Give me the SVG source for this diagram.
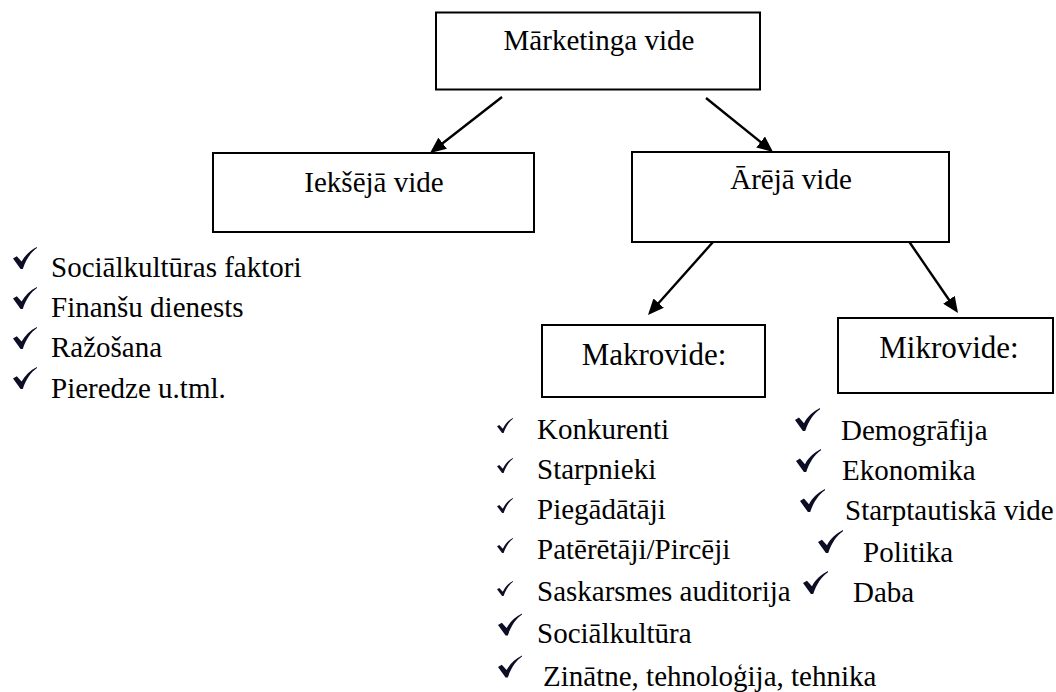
<svg xmlns="http://www.w3.org/2000/svg" width="1056" height="692" viewBox="0 0 1056 692">
<style>
.box{fill:#fff;stroke:#000;stroke-width:2}
.t{font-family:'Liberation Serif','Times New Roman',Times,serif;font-size:29px;fill:#000}
.tc{text-anchor:middle}
.big{font-size:31px}
.arr{stroke:#000;stroke-width:2.4;fill:none;marker-end:url(#ah)}
.chk{fill:#0d0d26}
</style>
<defs>
<marker id="ah" markerUnits="userSpaceOnUse" markerWidth="16" markerHeight="14" viewBox="0 0 16 14" refX="13" refY="7" orient="auto">
<path d="M0,0 L16,7 L0,14 Z" fill="#000"/>
</marker>
<symbol id="chk" viewBox="0 0 24 22">
<path class="chk" d="M0,11.5 L3.8,9.2 L8.6,14.6 C12,8.4 17,3.4 24,0 L24,1.1 C18,5.2 13.2,12 9.8,22 L7.6,22 Z"/>
</symbol>
<symbol id="chks" viewBox="0 0 16 15">
<path class="chk" d="M0,8.2 L2.3,7 L5.8,10.8 C8.4,5.6 11.6,2.3 16,0 L16,0.8 C12.2,3.6 9,8.4 6.6,15 L5.1,15 Z"/>
</symbol>
</defs>

<g id="connectors">
<line class="arr" x1="502" y1="97" x2="432.4" y2="151.2"/>
<line class="arr" x1="706" y1="98" x2="770.7" y2="150.1"/>
<line class="arr" x1="713" y1="242" x2="650" y2="312.8"/>
<line class="arr" x1="908" y1="240" x2="956.3" y2="310.5"/>
</g>

<g id="marketinga-vide">
<rect class="box" x="436" y="12.5" width="324" height="77"/>
<text class="t tc" x="599" y="50">Mārketinga vide</text>
</g>

<g id="ieksejā-vide">
<rect class="box" x="213" y="153" width="321" height="79"/>
<text class="t tc" x="374" y="192">Iekšējā vide</text>
</g>

<g id="areja-vide">
<rect class="box" x="632" y="152" width="317" height="90"/>
<text class="t tc" x="791" y="189">Ārējā vide</text>
</g>

<g id="makrovide">
<rect class="box" x="542" y="325" width="223" height="72"/>
<text class="t big tc" x="654" y="365">Makrovide:</text>
</g>

<g id="mikrovide">
<rect class="box" x="838" y="318" width="215" height="75"/>
<text class="t big tc" x="949" y="358">Mikrovide:</text>
</g>

<g id="ieksejā-list">
<use href="#chk" x="13" y="247" width="24" height="22"/>
<use href="#chk" x="13" y="287" width="24" height="22"/>
<use href="#chk" x="13" y="327" width="24" height="22"/>
<use href="#chk" x="13" y="367" width="24" height="22"/>
<text class="t" x="51" y="277">Sociālkultūras faktori</text>
<text class="t" x="51" y="317">Finanšu dienests</text>
<text class="t" x="51" y="357">Ražošana</text>
<text class="t" x="51" y="398">Pieredze u.tml.</text>
</g>

<g id="makrovide-list">
<use href="#chks" x="497" y="418" width="16" height="15"/>
<use href="#chks" x="497" y="458" width="16" height="15"/>
<use href="#chks" x="497" y="498" width="16" height="15"/>
<use href="#chks" x="497" y="538" width="16" height="15"/>
<use href="#chks" x="497" y="581" width="16" height="15"/>
<use href="#chk" x="498" y="613" width="24" height="23"/>
<use href="#chk" x="498" y="655" width="24" height="23"/>
<text class="t" x="537" y="439">Konkurenti</text>
<text class="t" x="537" y="479">Starpnieki</text>
<text class="t" x="537" y="519">Piegādātāji</text>
<text class="t" x="537" y="559">Patērētāji/Pircēji</text>
<text class="t" x="537" y="601">Saskarsmes auditorija</text>
<text class="t" x="537" y="643">Sociālkultūra</text>
<text class="t" x="543" y="686">Zinātne, tehnoloģija, tehnika</text>
</g>

<g id="mikrovide-list">
<use href="#chk" x="795" y="407" width="25" height="25"/>
<use href="#chk" x="796" y="448" width="25" height="25"/>
<use href="#chk" x="800" y="488" width="25" height="25"/>
<use href="#chk" x="818" y="529" width="25" height="25"/>
<use href="#chk" x="803" y="570" width="25" height="25"/>
<text class="t" x="841" y="440">Demogrāfija</text>
<text class="t" x="842" y="480">Ekonomika</text>
<text class="t" x="845" y="520">Starptautiskā vide</text>
<text class="t" x="863" y="562">Politika</text>
<text class="t" x="853" y="602">Daba</text>
</g>
</svg>
